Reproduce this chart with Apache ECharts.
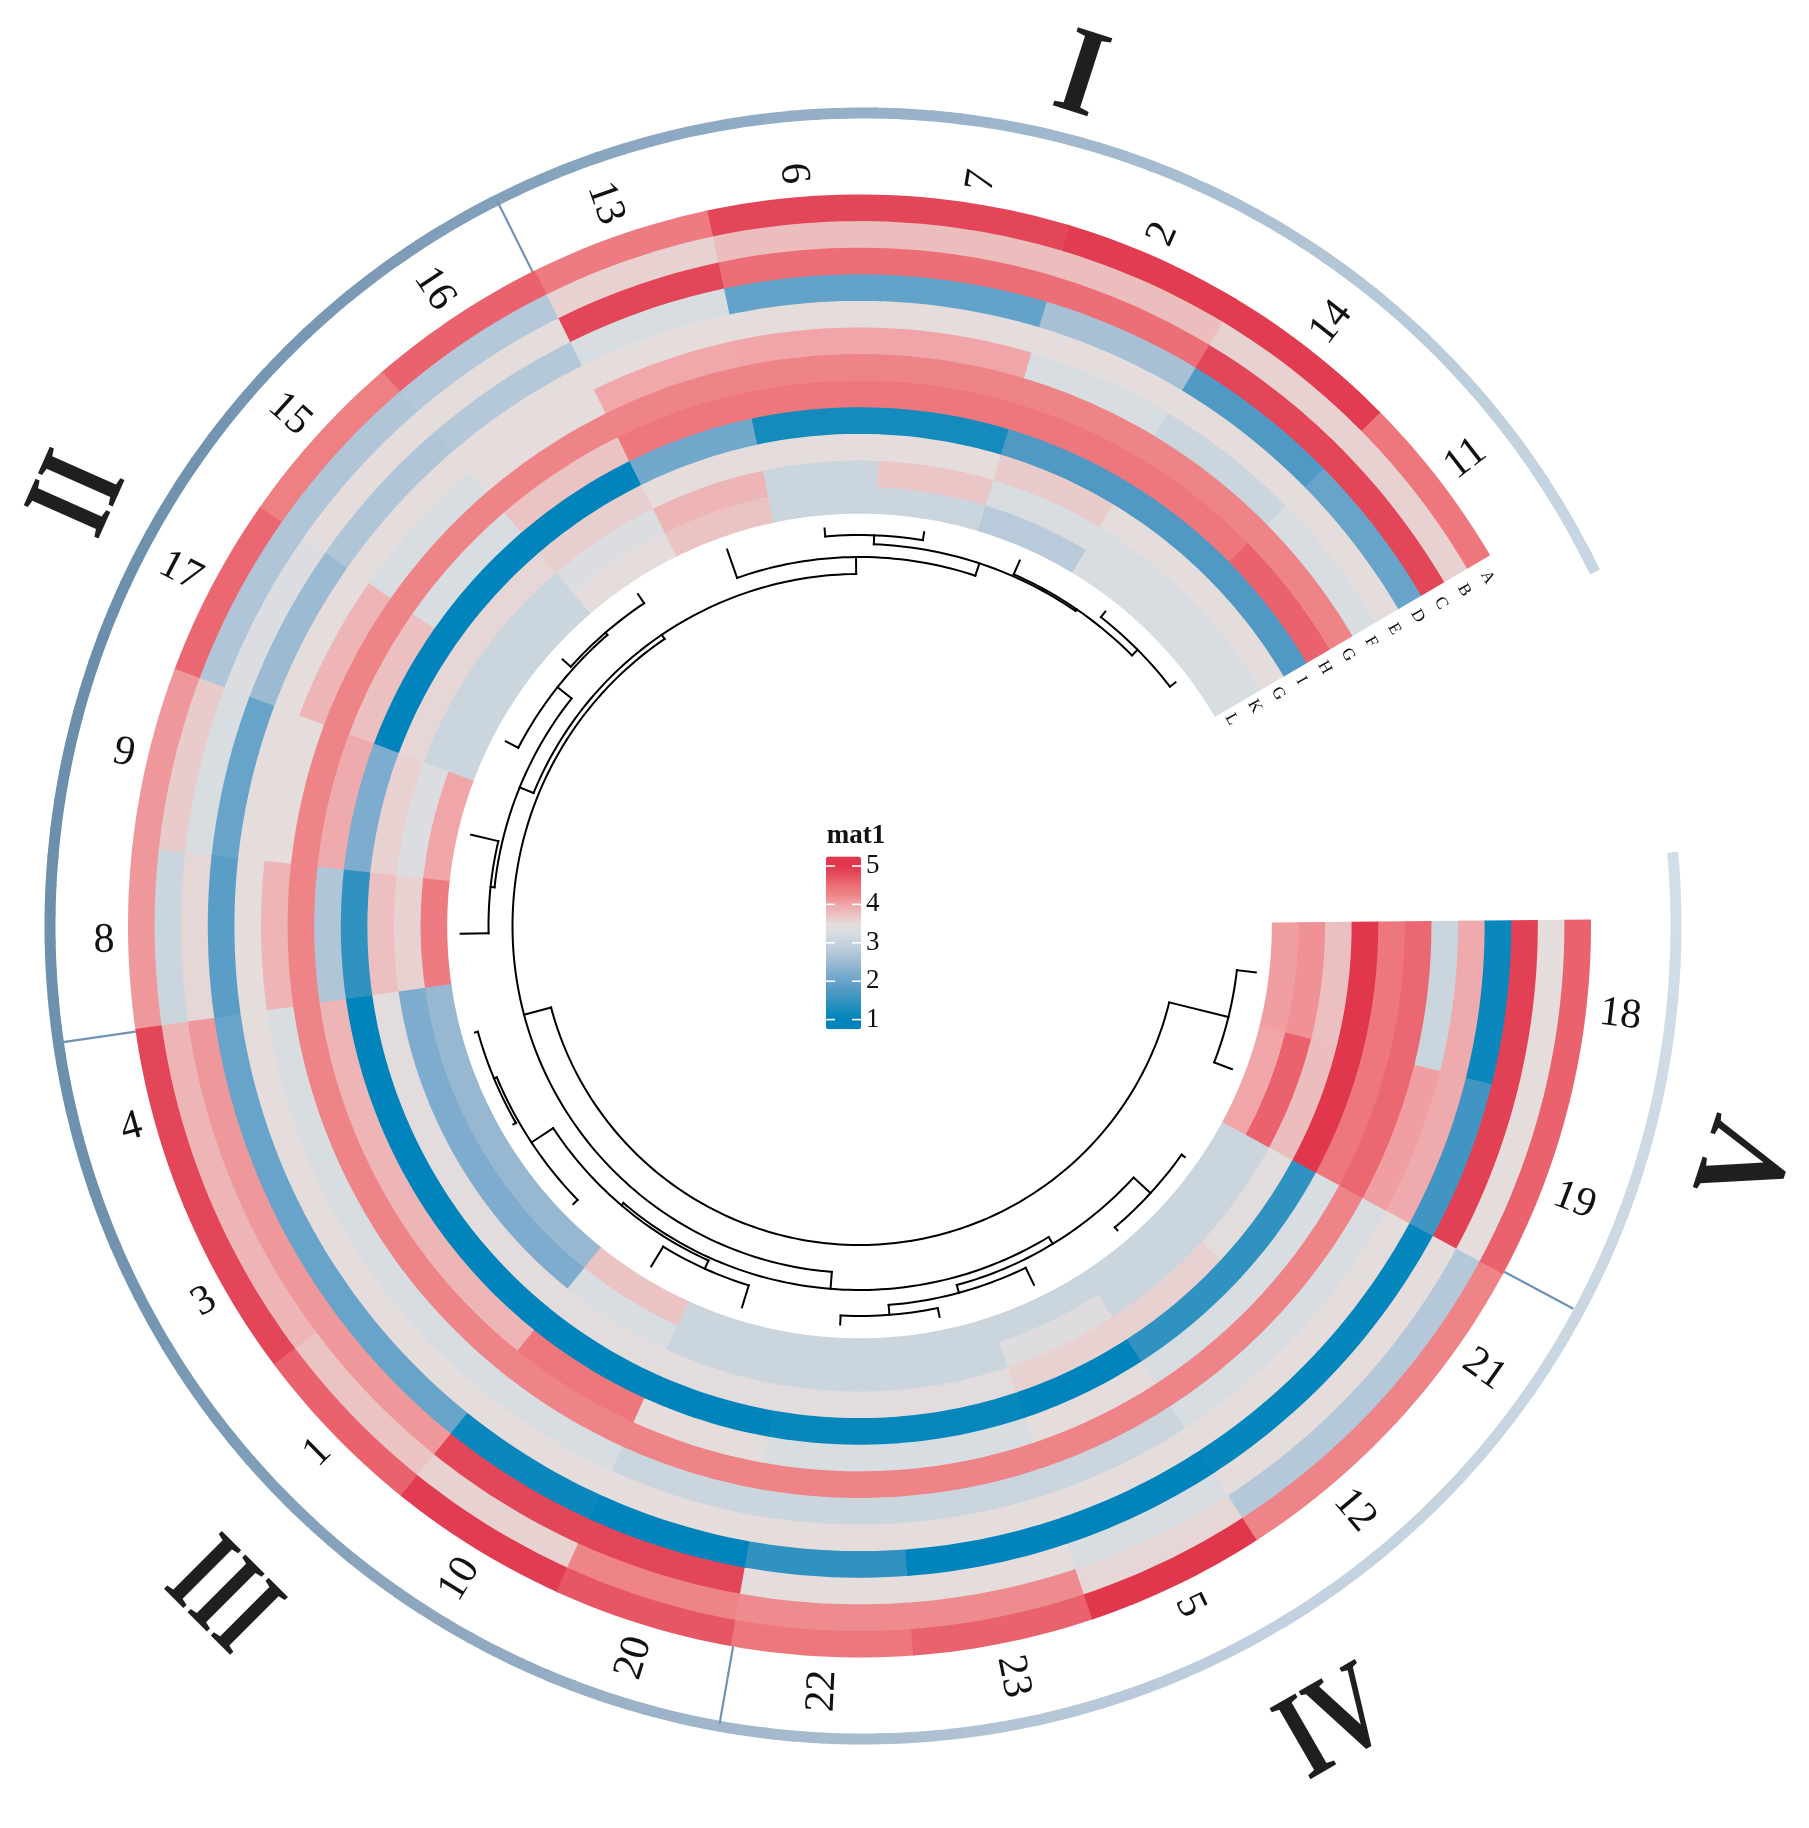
<!DOCTYPE html>
<html><head><meta charset="utf-8">
<style>html,body{margin:0;padding:0;background:#fff}#c{width:1809px;height:1828px}</style>
<script src="https://cdn.jsdelivr.net/npm/echarts@6/dist/echarts.min.js"></script>
</head><body><div id="c"></div>
<script>
// ---------- data ----------
const columns = ['18','19','21','12','5','23','22','20','10','1','3','4','8','9','17','15','16','13','6','7','2','14','11'];
const rowLabels = ['A','B','C','D','E','F','G','H','I','G','K','L'];
const rowA = [4.6,4.6,4.25,4.25,5,4.6,4.4,4.7,4.95,4.6,4.85,4.85,4.1,4.1,4.55,4.3,4.6,4.35,4.85,4.85,4.95,4.95,4.4];
const rowB = [3.5,3.5,2.75,2.75,3.55,4.2,4.2,4.25,3.6,3.72,3.85,3.85,3.05,3.65,2.7,2.7,2.75,3.6,3.78,3.78,3.78,3.6,3.6];
const rowC = [4.9,4.9,3.5,3.5,3.25,3.5,3.5,4.85,4.85,4.1,4.1,4.1,3.55,3.25,3.3,3.5,3.5,4.85,4.5,4.5,4.5,4.85,4.85];
const rowD = [1.1,1.6,1.05,1.05,1,1,1.45,1,1.1,2,2,2,1.85,2,2.5,2.7,2.75,3.25,1.95,1.95,2.6,1.75,2];
const rowE = [3.95,3.95,3.5,3.5,3.5,3.5,3.5,3.5,3.5,3.5,3.5,3.5,3.5,3.5,3.5,3.5,3.5,3.5,3.5,3.5,3.5,3.5,3.5];
const rowF = [3.05,4.05,3.25,3.25,3.05,3.05,3.05,3.05,3.25,3.25,3.25,3.25,3.85,3.5,3.85,3.25,3.5,3.97,4,4,3.25,3.05,3.25];
const rowG = [4.55,4.55,4.25,4.25,4.25,4.25,4.25,4.25,4.25,4.25,4.25,4.25,4.25,4.25,4.25,4.25,4.25,4.25,4.25,4.25,4.25,4.25,4.25];
const rowH = [4.4,4.4,3.25,3.25,3.5,3.25,3.25,3.5,4.4,3.85,3.85,3.85,2.7,3.95,3.75,3.25,3.72,4.4,4.4,4.4,4.4,4.4,4.6];
const rowI = [5,5,1.45,1.45,1,1.08,1.08,1,1,1,1,1,1.45,2.2,1,1,1,2.1,1.2,1.2,1.75,1.75,1.75];
const rowJ = [3.75,3.78,3.45,3.6,3.6,3.45,3.45,3.45,3.45,3.45,3.45,3.45,3.75,3.6,3.55,3.55,3.62,3.5,3.5,3.5,3.65,3.5,3.5];
const rowK = [4.15,4.6,3.05,3.05,3.38,3.05,3.05,3.05,3.25,2.2,2.2,2.2,3.6,3.3,3.05,3.05,3.3,3.85,3.05,3.7,3.25,3.25,3.25];
const rowL = [4.05,4,3.05,3.05,3.05,3.05,3.05,3.05,3.72,2.45,2.45,2.45,4.35,4,3.05,3.05,3.5,3.72,3.05,3.05,2.8,3.25,3.25];
const matrix = [rowA,rowB,rowC,rowD,rowE,rowF,rowG,rowH,rowI,rowJ,rowK,rowL];
const legendTicks = [5,4,3,2,1];
const groups = ['I','II','III','IV','V'];
const groupEnds = [2,7,12,17]; // number of columns before each separator
// dendrogram: [height, child, child]; leaves are column names
const dendro = [319,
  [380,'18','19'],
  [347,
    [364,
      [372,[380,'5',[390,'23','22']],[395,'21','12']],
      [367,[376,'20','10'],[393,'1',[396,'3','4']]]],
    [352,
      [367,[371,'8','9'],[385,'17',[388,'15','16']]],
      [369,'13',[382,[391,'6','7'],[384,'2',[392,'14','11']]]]]]];

// ---------- layout and styles ----------
const START=-0.5, STEP=14.35, R_OUT=731.5, TRACK=26.6, LEAF=399, SERIF='"Liberation Serif",serif';
const colEdge = i => START + STEP*i;
const colMid = i => START + STEP*(i+0.5);
const palette = ['#0084BB','#0084BB','#1A8CBE','#3593C0','#5099C4','#68A4CA','#82AECF','#9DBAD3','#B5C8D9','#C7D3DD','#D8DDE2','#E5DCDC','#ECC0C0','#F0A5A8','#EE8488','#EC6E76','#E55060','#E0374D','#E0374D'];
const ringStops = [[-6,'#D2DEE8'],[60,'#C2D1DF'],[90,'#A9BDD0'],[120,'#8FA8C0'],[160,'#6E91AE'],[200,'#6A8EAB'],[230,'#7A99B5'],[260,'#8FABC4'],[290,'#A5BBCF'],[320,'#BFD0DD'],[335,'#C9D7E3']];
const RING_FROM=-5.2, RING_TO=334.2, RING_R=813, RING_W=11;

const cells=[];
matrix.forEach((row,r)=>row.forEach((v,c)=>cells.push([c,r,v])));

const segs=[];
function layout(n){
  if(typeof n==='string') return {a:colMid(columns.indexOf(n)),h:LEAF};
  const p=layout(n[1]), q=layout(n[2]), h=n[0];
  segs.push([p.a,h,q.a,h],[p.a,h,p.a,p.h],[q.a,h,q.a,q.h]);
  return {a:(p.a+q.a)/2,h};
}
layout(dendro);

const ringPieces=[];
for(let a=RING_FROM;a<RING_TO;a+=2){
  const b=Math.min(a+2.15,RING_TO), m=a+1;
  let i=0; while(i<ringStops.length-2 && ringStops[i+1][0]<m) i++;
  const t=(m-ringStops[i][0])/(ringStops[i+1][0]-ringStops[i][0]);
  ringPieces.push([a,b,echarts.color.lerp(t,[ringStops[i][1],ringStops[i+1][1]])]);
}

function band(api,a0,a1,r0,r1){
  const pts=[], n=Math.max(2,Math.ceil(Math.abs(a1-a0)));
  for(let i=0;i<=n;i++) pts.push(api.coord([r1,a0+(a1-a0)*i/n]).slice(0,2));
  for(let i=n;i>=0;i--) pts.push(api.coord([r0,a0+(a1-a0)*i/n]).slice(0,2));
  return pts;
}
const hiddenAxis={axisLine:{show:false},axisTick:{show:false},axisLabel:{show:false},splitLine:{show:false},splitArea:{show:false}};

const legendTop=856.4, legendUnit=38.4, legendLeft=826, legendW=35;
const legendY=v=>legendTop+(5.25-v)*legendUnit;
const graphics=[
  {type:'text',x:856,y:836,style:{text:'mat1',font:'bold 27px '+SERIF,fill:'#111',align:'center',verticalAlign:'middle',textAlign:'center',textVerticalAlign:'middle'},z:20}
];
legendTicks.forEach(v=>{
  const y=legendY(v);
  graphics.push({type:'text',x:legendLeft+legendW+5,y,style:{text:String(v),font:'27px '+SERIF,fill:'#111',align:'left',verticalAlign:'middle',textAlign:'left',textVerticalAlign:'middle'},z:20});
  graphics.push({type:'line',shape:{x1:legendLeft,y1:y,x2:legendLeft+9,y2:y},style:{stroke:'#fff',lineWidth:1.6},z:20});
  graphics.push({type:'line',shape:{x1:legendLeft+legendW-9,y1:y,x2:legendLeft+legendW,y2:y},style:{stroke:'#fff',lineWidth:1.6},z:20});
});
const romanPlace=[[1080,80,17.8,0.9],[82,496,-66,0.72],[220,1599,45,0.68],[1336,1727,-30,0.74],[1752,1165,-72,0.9]];
groups.forEach((g,i)=>{
  const [x,y,rot,sx]=romanPlace[i];
  graphics.push({type:'text',x,y,rotation:-rot*Math.PI/180,scaleX:sx,style:{text:g,font:'bold 125px '+SERIF,fill:'#1F1F1F',align:'center',verticalAlign:'middle',textAlign:'center',textVerticalAlign:'middle'},z:20});
});

const chart=echarts.init(document.getElementById('c'),null,{renderer:'canvas',width:1809,height:1828});
chart.setOption({
  animation:false,
  backgroundColor:'#fff',
  polar:[
    {center:[859.5,926],radius:900},
    {center:[863,926],radius:900}
  ],
  angleAxis:[
    Object.assign({polarIndex:0,type:'value',min:0,max:360,startAngle:0,clockwise:true},hiddenAxis),
    Object.assign({polarIndex:1,type:'value',min:0,max:360,startAngle:0,clockwise:true},hiddenAxis)
  ],
  radiusAxis:[
    Object.assign({polarIndex:0,type:'value',min:0,max:900},hiddenAxis),
    Object.assign({polarIndex:1,type:'value',min:0,max:900},hiddenAxis)
  ],
  visualMap:{
    type:'continuous',seriesIndex:0,dimension:2,min:0.75,max:5.25,calculable:false,hoverLink:false,
    left:legendLeft,top:legendTop,itemWidth:legendW,itemHeight:legendUnit*4.5,padding:0,text:null,showLabel:false,
    inRange:{color:palette}
  },
  graphic:graphics,
  series:[
    {type:'custom',coordinateSystem:'polar',polarIndex:0,data:cells,silent:true,z:2,
     renderItem(p,api){
       const c=api.value(0), r=api.value(1), col=api.visual('color');
       const o=R_OUT-TRACK*r, i=o-TRACK-(r<matrix.length-1?0.8:0);
       // each cell reaches slightly under its neighbours, so equal colours show no seam
       const end=colEdge(c+1)+(c<columns.length-1?0.2:0);
       return {type:'polygon',z2:r*100-c,shape:{points:band(api,colEdge(c),end,i,o)},style:{fill:col}};
     }},
    {type:'custom',coordinateSystem:'polar',polarIndex:1,data:ringPieces,silent:true,z:1,
     renderItem(p,api){
       const col=ringPieces[p.dataIndex][2];
       return {type:'polygon',z2:-p.dataIndex,shape:{points:band(api,api.value(0),api.value(1),RING_R-RING_W/2,RING_R+RING_W/2)},style:{fill:col}};
     }},
    {type:'custom',coordinateSystem:'polar',polarIndex:0,data:groupEnds.map(g=>[g]),silent:true,z:1,
     renderItem(p,api){
       const a=colEdge(api.value(0));
       return {type:'line',shape:(()=>{const u=api.coord([R_OUT,a]),v=api.coord([810,a]);return {x1:u[0],y1:u[1],x2:v[0],y2:v[1]};})(),style:{stroke:'#6F93B5',lineWidth:2.2}};
     }},
    {type:'custom',coordinateSystem:'polar',polarIndex:0,data:segs,silent:true,z:3,
     renderItem(p,api){
       const a0=api.value(0),r0=api.value(1),a1=api.value(2),r1=api.value(3);
       const n=Math.max(1,Math.ceil(Math.abs(a1-a0))),pts=[];
       for(let i=0;i<=n;i++) pts.push(api.coord([r0+(r1-r0)*i/n,a0+(a1-a0)*i/n]).slice(0,2));
       return {type:'polyline',shape:{points:pts},style:{stroke:'#000',lineWidth:2,fill:null,lineCap:'square',lineJoin:'miter'}};
     }},
    {type:'custom',coordinateSystem:'polar',polarIndex:0,data:columns.map((c,i)=>[i]),silent:true,z:4,
     renderItem(p,api){
       const i=api.value(0), a=colMid(i), pt=api.coord([745,a]);
       const right=a<90||a>=270;
       const rot=right?(a>=270?a-360:a):a-180, al=right?'left':'right';
       return {type:'text',x:pt[0],y:pt[1],rotation:-rot*Math.PI/180,
         style:{text:columns[i],font:'42px '+SERIF,fill:'#111',align:al,verticalAlign:'middle',textAlign:al,textVerticalAlign:'middle'}};
     }},
    {type:'custom',coordinateSystem:'polar',polarIndex:0,data:rowLabels.map((c,i)=>[i]),silent:true,z:4,
     renderItem(p,api){
       const i=api.value(0), pt=api.coord([R_OUT-TRACK*(i+0.5),colEdge(columns.length)+1.4]);
       return {type:'text',x:pt[0],y:pt[1],rotation:-60*Math.PI/180,
         style:{text:rowLabels[i],font:'17px '+SERIF,fill:'#111',align:'center',verticalAlign:'middle',textAlign:'center',textVerticalAlign:'middle'}};
     }}
  ]
});
</script></body></html>
